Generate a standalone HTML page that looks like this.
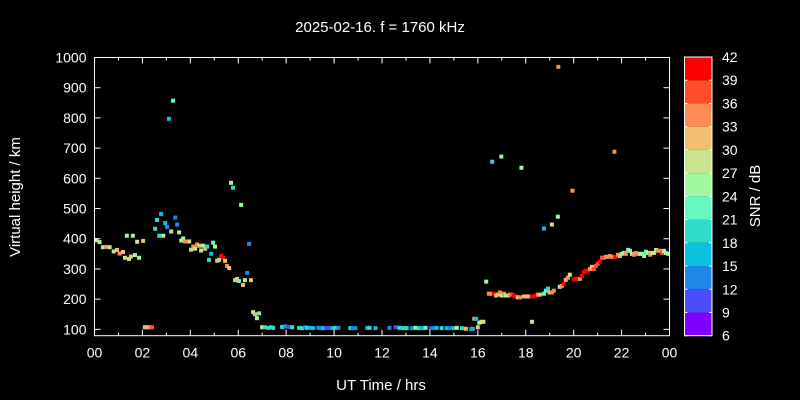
<!DOCTYPE html>
<html><head><meta charset="utf-8"><style>
html,body{margin:0;padding:0;background:#000;overflow:hidden;width:800px;height:400px;}
svg{display:block;}
svg text{font-family:"Liberation Sans",sans-serif;fill:#fff;}
</style></head><body>
<svg id="chart" width="800" height="400" xmlns="http://www.w3.org/2000/svg">
<rect width="800" height="400" fill="#000"/>
<text x="380" y="32" font-size="15" text-anchor="middle">2025-02-16. f = 1760 kHz</text>
<text x="381" y="390" font-size="15" text-anchor="middle">UT Time / hrs</text>
<text x="20" y="197" font-size="15" text-anchor="middle" transform="rotate(-90 20 197)">Virtual height / km</text>
<text x="760" y="196" font-size="15" text-anchor="middle" transform="rotate(-90 760 196)">SNR / dB</text>
<g id="marks"></g>
<g id="axes"></g>
<g id="cbar"></g>
</svg>
<script>
const xTicks=[0,2,4,6,8,10,12,14,16,18,20,22,24];
const xTickLabels=["00","02","04","06","08","10","12","14","16","18","20","22","00"];
const yTicks=[100,200,300,400,500,600,700,800,900,1000];
const cbTicks=[6,9,12,15,18,21,24,27,30,33,36,39,42];
const bandColors=["#8000ff","#4c4cf8","#1e88e8","#0cc0e2","#30dccc","#66f8c0","#a0f8a0","#c8e490","#f0c070","#ff8c50","#ff4c2a","#ff0000"];
const hours=[0.07,0.21,0.35,0.49,0.63,0.8,0.94,1.05,1.19,1.27,1.44,1.52,1.35,1.6,1.69,1.86,1.78,2.03,2.1,2.2,2.3,2.4,2.53,2.61,2.7,2.78,2.87,2.95,3.03,3.11,3.28,3.2,3.37,3.45,3.53,3.62,3.7,3.78,3.95,4.03,4.12,4.2,4.28,4.37,4.45,4.53,4.62,4.7,4.78,4.87,4.95,5.03,5.12,5.2,5.28,5.37,5.45,5.53,5.62,5.7,5.78,6.12,6.45,6.37,5.87,5.95,6.03,6.2,6.28,6.53,6.62,6.7,6.78,6.87,
7.0,7.12,7.25,7.37,7.46,7.83,7.96,8.13,8.25,8.54,8.67,8.8,8.88,9.0,9.13,9.34,9.42,9.55,9.68,9.8,9.93,10.05,10.18,10.68,10.76,10.89,11.39,11.48,11.73,12.31,12.57,12.73,12.9,13.03,13.24,13.4,13.53,13.7,13.82,14.03,14.16,14.28,14.49,14.7,14.83,14.99,15.12,15.33,15.5,15.71,15.79,
15.85,15.93,16.0,16.06,16.15,16.23,16.35,16.46,16.57,16.67,16.76,16.84,16.92,17.0,17.09,17.17,17.26,17.34,17.42,17.51,17.59,17.67,17.76,17.93,18.01,18.09,18.26,18.34,18.42,18.51,18.59,18.76,18.84,18.93,19.0,19.09,19.17,19.42,19.51,19.59,19.67,19.76,19.84,20.01,20.09,20.18,20.26,20.34,20.43,20.51,20.59,20.68,20.76,20.84,20.93,21.01,21.09,21.18,21.26,21.34,21.43,21.51,21.59,21.76,21.85,21.93,22.01,22.1,22.18,22.27,22.35,22.43,22.52,22.6,22.69,22.77,22.85,22.94,23.02,23.1,23.19,23.27,23.35,23.44,23.52,23.6,23.69,23.77,23.85,23.94,
19.36,16.6,16.98,17.82,21.7,19.95,19.34,19.09,18.76,18.26];
const heights=[395,389,372,373,372,358,363,351,356,337,333,341,410,410,346,337,390,393,107,107,107,107,433,462,410,482,410,452,439,797,857,424,470,447,421,394,401,391,391,364,374,367,381,377,361,377,367,374,330,350,387,374,327,330,343,337,327,310,303,585,569,512,383,287,263,267,260,247,263,263,157,150,137,153,
107,107,105,107,105,108,110,108,107,105,104,107,105,105,104,105,104,104,105,105,104,105,105,104,104,104,105,105,104,105,107,105,104,104,104,105,104,104,105,104,104,105,104,104,104,104,105,104,102,101,102,
135,135,107,122,125,125,258,218,218,218,212,215,222,212,218,212,212,215,215,212,209,206,206,209,209,209,209,209,212,215,215,218,228,235,222,222,228,241,244,251,264,271,281,267,267,267,267,277,290,294,294,300,307,300,310,317,324,337,337,340,340,343,340,340,347,343,350,353,350,363,360,350,347,353,350,350,350,343,357,353,347,353,353,363,360,360,353,360,353,350,
969,655,672,635,688,559,473,447,434,125];
const snr=[24,27,24,33,27,27,30,33,30,27,27,30,24,24,24,24,27,30,30,30,33,36,18,18,18,15,24,15,12,15,21,27,12,12,24,27,24,33,27,27,33,27,33,30,27,24,30,18,18,15,21,24,30,30,39,42,30,33,30,24,18,24,12,12,27,30,21,30,24,30,24,30,24,21,
27,18,18,18,18,18,12,9,18,18,18,12,18,15,15,12,12,15,9,9,15,18,12,18,12,12,15,18,15,12,9,18,18,18,12,24,18,15,21,9,12,15,18,15,12,15,27,18,30,12,15,
33,15,30,24,27,27,24,33,33,39,30,30,33,27,33,24,24,33,36,39,42,27,33,30,30,30,39,39,39,33,30,21,21,18,30,33,33,24,33,39,30,33,27,39,39,39,33,39,39,39,39,33,30,36,36,36,39,36,36,33,33,33,33,42,33,30,27,24,33,21,27,24,33,33,33,27,24,24,21,24,33,27,27,27,33,33,36,24,24,24,
33,18,24,24,33,33,24,27,15,27];

const NS="http://www.w3.org/2000/svg";
const X0=94.5,X1=669.5,Y0=57.5,Y1=335.7,KM0=79,KM1=1000;
const xs=h=>X0+(h/24)*(X1-X0);
const ys=k=>Y1-(k-KM0)/(KM1-KM0)*(Y1-Y0);
const CB_X=684.5,CB_W=27.5,CB_T=57,CB_B=335.7;
const cs=v=>CB_B-(v-6)/36*(CB_B-CB_T);
function col(v){let i=Math.floor((v-6)/3);if(i<0)i=0;if(i>11)i=11;return bandColors[i];}
function mk(tag,attrs,parent){const e=document.createElementNS(NS,tag);for(const k in attrs)e.setAttribute(k,attrs[k]);parent.appendChild(e);return e;}

const marks=document.getElementById('marks');
for(let i=0;i<hours.length;i++){
  const r=mk('rect',{x:xs(hours[i])-2,y:ys(heights[i])-2,width:4,height:4,fill:col(snr[i])},marks);
  
  
}
const ax=document.getElementById('axes');
const frame=mk('rect',{x:X0,y:Y0,width:X1-X0,height:Y1-Y0,fill:'none',stroke:'#fff','stroke-width':1},ax);


for(let h=0;h<=24;h++){
  const x=xs(h),len=(h%2===0)?6:3;
  mk('line',{x1:x,x2:x,y1:Y1,y2:Y1-len,stroke:'#fff'},ax);
  mk('line',{x1:x,x2:x,y1:Y0,y2:Y0+len,stroke:'#fff'},ax);
}
xTicks.forEach((h,i)=>{
  const t=mk('text',{x:xs(h),y:Y1+22,'font-size':14,'text-anchor':'middle'},ax);
  t.textContent=xTickLabels[i];
  
  
});
yTicks.forEach(k=>{
  const y=ys(k);
  mk('line',{x1:X0,x2:X0+6,y1:y,y2:y,stroke:'#fff'},ax);
  mk('line',{x1:X1,x2:X1-6,y1:y,y2:y,stroke:'#fff'},ax);
  const t=mk('text',{x:X0-8,y:y+5,'font-size':14,'text-anchor':'end'},ax);
  t.textContent=k;
  
  
});
const cb=document.getElementById('cbar');
bandColors.forEach((c,i)=>{
  const r=mk('rect',{x:CB_X,y:cs(6+3*(i+1)),width:CB_W,height:cs(6+3*i)-cs(6+3*(i+1)),fill:c},cb);
  
  
});
mk('rect',{x:CB_X,y:CB_T,width:CB_W,height:CB_B-CB_T,fill:'none',stroke:'#fff'},cb);
cbTicks.forEach(v=>{
  const y=cs(v);
  mk('line',{x1:CB_X,x2:CB_X+3,y1:y,y2:y,stroke:'#fff'},cb);
  mk('line',{x1:CB_X+CB_W,x2:CB_X+CB_W-3,y1:y,y2:y,stroke:'#fff'},cb);
  const t=mk('text',{x:CB_X+CB_W+10,y:y+5,'font-size':14},cb);
  t.textContent=v;
  
  
});
</script>
</body></html>
